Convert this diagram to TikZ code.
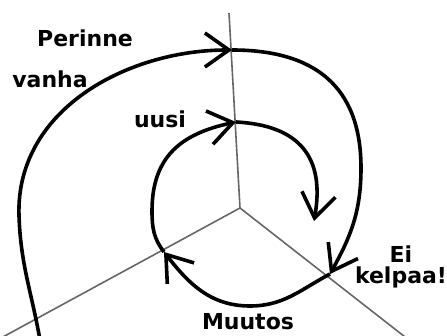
\documentclass[tikz,border=0pt]{standalone}
\usepackage{fontspec}
\setmainfont{DejaVu Sans}
\usetikzlibrary{arrows.meta}

\begin{document}
\begin{tikzpicture}[
    x=1pt, y=1pt,
    axis/.style={draw=black!60, line width=1.6pt},
    spiral/.style={draw=black, line width=3.6pt, line join=round, -{Straight Barb[length=24pt,width=34pt]}},
    word/.style={font=\bfseries\fontsize{22}{21}\selectfont, inner sep=0pt}
]
\clip (0,0) rectangle (447,336);

% Axes
\coordinate (O)   at (240,128);
\coordinate (top) at (229,323);
\coordinate (ll)  at (-10,-8);
\coordinate (lr)  at (414,-8);
\draw[axis] (O) -- (top);
\draw[axis] (O) -- (ll);
\draw[axis] (O) -- (lr);

% Spiral points
\coordinate (s0) at (40,-4);
\coordinate (s1) at (19,120);
\coordinate (A)  at (232,286);
\coordinate (s2) at (361,168);
\coordinate (B)  at (330,62);
\coordinate (s3) at (250,30);
\coordinate (C)  at (164,84);
\coordinate (s4) at (152,125);
\coordinate (D)  at (236,214);
\coordinate (E)  at (314,115);

% Spiral
\draw[spiral] (s0) to[out=100,in=-88] (s1) to[out=92,in=180] (A);
\draw[spiral] (A) to[out=0,in=90,looseness=1.2] (s2) to[out=-90,in=61] (B);
\draw[spiral] (B) to[out=208,in=0] (s3) to[out=180,in=-52] (C);
\draw[spiral] (C) to[out=128,in=-90] (s4) to[out=90,in=192,looseness=1.15] (D);
\draw[spiral] (D) to[out=-3,in=80,looseness=1.3] (E);

% Labels
\node[word, anchor=base] (perinne) at (85,289) {Perinne};
\node[word, anchor=base] (vanha)   at (50,248) {vanha};
\node[word, anchor=base] (uusi)    at (160,208) {uusi};
\node[word, align=center] (eikelpaa) at (401,69) {Ei\\kelpaa!};
\node[word, anchor=base] (muutos)  at (248,6) {Muutos};

\end{tikzpicture}
\end{document}
